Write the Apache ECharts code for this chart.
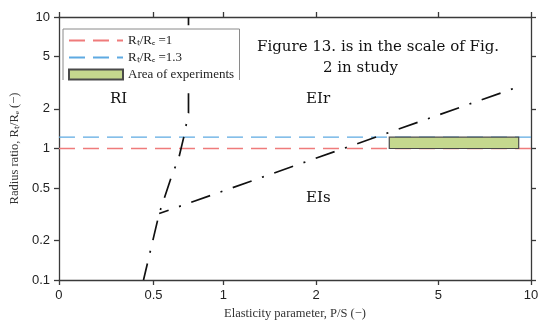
<!DOCTYPE html>
<html><head><meta charset="utf-8">
<script src="https://cdn.jsdelivr.net/npm/echarts@6/dist/echarts.min.js"></script>
<style>html,body{margin:0;padding:0;background:#fff}#c{width:550px;height:329px}</style>
</head><body><div id="c"></div>
<script>
// ---- data ----
const xTickValues = [0, 0.5, 1, 2, 5, 10];
const yTickValues = [0.1, 0.2, 0.5, 1, 2, 5, 10];
const riBoundaryX = [0.437, 0.537, 0.617, 0.671, 0.706, 0.74, 0.74];
const riBoundaryY = [0.1, 0.32, 0.6, 0.85, 1.22, 1.86, 10];
const eiBoundaryX = [0.537, 9.3];
const eiBoundaryY = [0.32, 3.0];
const ratioLineX = [0, 10];
const ratioOneValue = 1;
const ratioHighValue = 1.22;
const experimentX = [3.46, 9.12];
const experimentY = [1, 1.22];
const legendNames = ['Rₜ/Rₑ =1', 'Rₜ/Rₑ =1.3', 'Area of experiments'];
const regionNames = ['RI', 'EIr', 'EIs'];
const noteLines = ['Figure 13. is in the scale of Fig.', '2 in study'];

// x-axis scale: logarithmic above 1, compressed smoothly to 0 below 1
function fx(x) {
  return x >= 1 ? Math.log10(x) : -0.535 + 0.7532 * x - 0.3354 * x * x + 0.1172 * x * x * x;
}
const xTicksT = xTickValues.map(fx);
function xLabel(v) {
  let best = xTickValues[0];
  xTickValues.forEach(t => { if (Math.abs(fx(t) - v) < Math.abs(fx(best) - v)) best = t; });
  return String(best);
}

const axisColor = '#3a3a3a';
const sans = 'Liberation Sans';
const serif = 'Liberation Serif';
const bigFont = '15px "DejaVu Serif"';

const chart = echarts.init(document.getElementById('c'));
const baseX = {
  type: 'value', min: fx(0), max: fx(10),
  axisLine: { onZero: false, lineStyle: { color: axisColor, width: 1.3 } },
  axisTick: { customValues: xTicksT, length: 5, lineStyle: { color: axisColor, width: 1.3 } },
  splitLine: { show: false }
};
const baseY = {
  type: 'log', logBase: 10, min: 0.1, max: 10,
  axisLine: { onZero: false, lineStyle: { color: axisColor, width: 1.3 } },
  axisTick: { customValues: yTickValues, length: 5, lineStyle: { color: axisColor, width: 1.3 } },
  splitLine: { show: false }, minorTick: { show: false }
};
const dashDot = { color: '#111', width: 1.7, type: [20, 11, 2, 11], cap: 'butt' };

chart.setOption({
  animation: false,
  grid: { left: 50, right: 19, top: 17, bottom: 49 },
  xAxis: [
    Object.assign({}, baseX, {
      position: 'bottom',
      axisLabel: { customValues: xTicksT, formatter: xLabel, margin: 9, color: '#222', fontFamily: sans, fontSize: 13 },
      name: 'Elasticity parameter, P/S (−)', nameLocation: 'middle', nameGap: 24,
      nameTextStyle: { fontFamily: serif, fontSize: 12.5, color: '#333' }
    }),
    Object.assign({}, baseX, { position: 'top', axisLabel: { show: false } })
  ],
  yAxis: [
    Object.assign({}, baseY, {
      position: 'left',
      axisLabel: { customValues: yTickValues, formatter: v => String(+(+v).toPrecision(3)), margin: 9, color: '#222', fontFamily: sans, fontSize: 13 },
      name: 'Radius ratio, Rₜ/Rₑ (−)', nameLocation: 'middle', nameGap: 31,
      nameTextStyle: { fontFamily: serif, fontSize: 12.5, color: '#333' }
    }),
    Object.assign({}, baseY, { position: 'right', axisLabel: { show: false } })
  ],
  legend: {
    data: [
      { name: legendNames[0], itemStyle: { opacity: 0 } },
      { name: legendNames[1], itemStyle: { opacity: 0 } },
      { name: legendNames[2], icon: 'rect' }
    ],
    orient: 'vertical', left: 63, top: 29,
    itemWidth: 54, itemHeight: 10, itemGap: 4,
    padding: [5, 6, 8, 5], backgroundColor: '#fff',
    selectedMode: false,
    textStyle: { fontFamily: serif, fontSize: 13, color: '#222' }
  },
  graphic: [
    { type: 'polyline', z: 100, shape: { points: [[63, 80], [63, 29], [239.5, 29], [239.5, 80]] }, style: { stroke: '#8a8a8a', lineWidth: 1, fill: null } },
    { type: 'text', z: 100, x: 257, y: 47, style: { text: noteLines[0], font: bigFont, fill: '#111', verticalAlign: 'middle' } },
    { type: 'text', z: 100, x: 323, y: 68, style: { text: noteLines[1], font: bigFont, fill: '#111', verticalAlign: 'middle' } },
    { type: 'text', z: 100, x: 110, y: 99, style: { text: regionNames[0], font: bigFont, fill: '#111', verticalAlign: 'middle' } },
    { type: 'text', z: 100, x: 306, y: 99, style: { text: regionNames[1], font: bigFont, fill: '#111', verticalAlign: 'middle' } },
    { type: 'text', z: 100, x: 306, y: 198, style: { text: regionNames[2], font: bigFont, fill: '#111', verticalAlign: 'middle' } }
  ],
  series: [
    {
      name: legendNames[0], type: 'line', symbol: 'none', silent: true, z: 2,
      data: ratioLineX.map(x => [fx(x), ratioOneValue]),
      lineStyle: { color: '#ef7b7b', width: 1.3, type: [16, 8] }, itemStyle: { color: '#ef7b7b' }
    },
    {
      name: legendNames[1], type: 'line', symbol: 'none', silent: true, z: 2,
      data: ratioLineX.map(x => [fx(x), ratioHighValue]),
      lineStyle: { color: '#5eaae2', width: 1.3, type: [16, 8] }, itemStyle: { color: '#5eaae2' }
    },
    {
      name: legendNames[2], type: 'custom', z: 4, silent: true,
      data: [[fx(experimentX[0]), fx(experimentX[1]), experimentY[0], experimentY[1]]],
      encode: { x: [0, 1], y: [2, 3] },
      itemStyle: { color: '#c5d88e', borderColor: '#4a4a4a', borderWidth: 1.2 },
      renderItem: (params, api) => {
        const p0 = api.coord([api.value(0), api.value(3)]);
        const p1 = api.coord([api.value(1), api.value(2)]);
        return { type: 'rect', shape: { x: p0[0], y: p0[1], width: p1[0] - p0[0], height: p1[1] - p0[1] },
          style: { fill: '#c5d88e', stroke: '#4a4a4a', lineWidth: 1.2 } };
      }
    },
    {
      name: 'RI boundary', type: 'line', symbol: 'none', silent: true, z: 3,
      data: riBoundaryX.map((x, i) => [fx(x), riBoundaryY[i]]),
      lineStyle: Object.assign({}, dashDot, { dashOffset: 3 })
    },
    {
      name: 'EI boundary', type: 'line', symbol: 'none', silent: true, z: 3,
      data: eiBoundaryX.map((x, i) => [fx(x), eiBoundaryY[i]]),
      lineStyle: Object.assign({}, dashDot, { dashOffset: 10 })
    }
  ]
});
</script></body></html>
